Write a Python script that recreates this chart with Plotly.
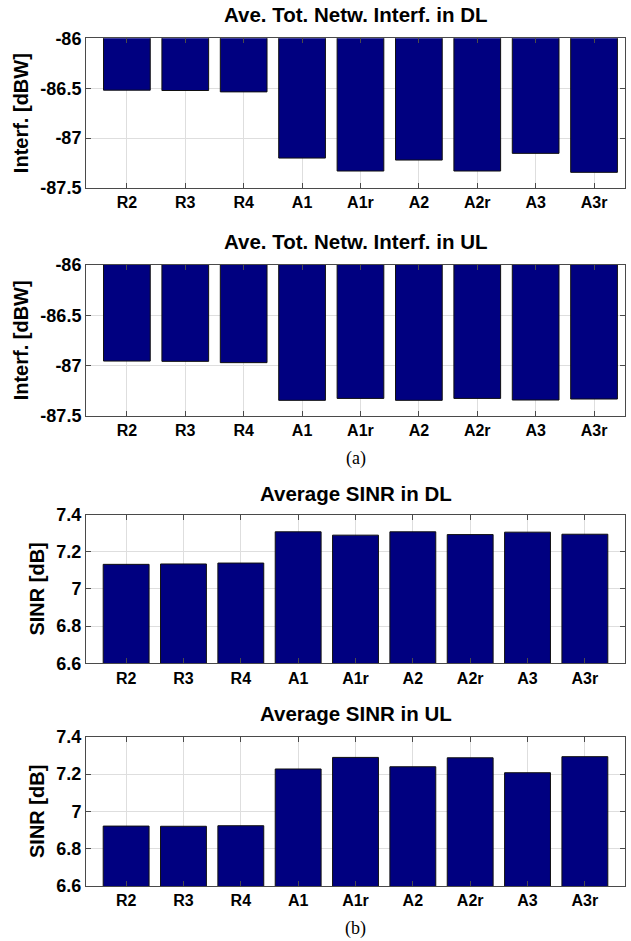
import plotly.graph_objects as go

categories = ["R2", "R3", "R4", "A1", "A1r", "A2", "A2r", "A3", "A3r"]
interf_dl = [-86.520, -86.523, -86.537, -87.200, -87.330, -87.220, -87.330, -87.153, -87.343]
interf_ul = [-86.956, -86.959, -86.972, -87.347, -87.328, -87.347, -87.328, -87.344, -87.334]
sinr_dl = [7.132, 7.134, 7.139, 7.307, 7.289, 7.307, 7.292, 7.305, 7.294]
sinr_ul = [6.921, 6.920, 6.923, 7.227, 7.289, 7.239, 7.287, 7.207, 7.293]

interf_ticks = [-86, -86.5, -87, -87.5]
interf_ticktext = ["-86", "-86.5", "-87", "-87.5"]
sinr_ticks = [6.6, 6.8, 7.0, 7.2, 7.4]
sinr_ticktext = ["6.6", "6.8", "7", "7.2", "7.4"]

titles = ["Ave. Tot. Netw. Interf. in DL", "Ave. Tot. Netw. Interf. in UL",
          "Average SINR in DL", "Average SINR in UL"]
ytitles = ["Interf. [dBW]", "Interf. [dBW]", "SINR [dB]", "SINR [dB]"]
captions = ["(a)", "(b)"]

W, H = 631, 941
FONT = "Liberation Sans, Arial, sans-serif"
BAR = "#000080"
FRAME = "#4a4a4a"
GRID = "#dedede"

series = [interf_dl, interf_ul, sinr_dl, sinr_ul]
# panel frames in pixels (top, bottom)
frames = [(38.3, 188.0), (265.0, 415.7), (514.5, 663.3), (736.7, 886.0)]
xranges = [[-0.7, 8.53], [-0.7, 8.53], [-0.7, 8.7], [-0.7, 8.7]]
yranges = [[-87.5, -86], [-87.5, -86], [6.6, 7.4], [6.6, 7.4]]
yticks = [(interf_ticks, interf_ticktext)] * 2 + [(sinr_ticks, sinr_ticktext)] * 2
title_y = [15, 242, 494, 713]
caption_y = [459, 928]

xd = [86 / W, 625 / W]

fig = go.Figure()
layout = dict(width=W, height=H, margin=dict(l=0, r=0, t=0, b=0),
              paper_bgcolor="white", plot_bgcolor="white", showlegend=False,
              bargap=0.2, annotations=[])

for i in range(4):
    n = "" if i == 0 else str(i + 1)
    fig.add_trace(go.Bar(x=categories, y=series[i], marker=dict(color=BAR, line=dict(color="#101010", width=1)),
                         width=0.8, xaxis="x" + n, yaxis="y" + n))
    top, bot = frames[i]
    layout["xaxis" + n] = dict(
        domain=xd, anchor="y" + n, range=xranges[i], type="category",
        categoryorder="array", categoryarray=categories,
        showline=True, linecolor=FRAME, linewidth=1, mirror="allticks",
        ticks="inside", ticklen=5, tickcolor=FRAME,
        showgrid=True, gridcolor=GRID, gridwidth=1, zeroline=False,
        tickfont=dict(family=FONT, size=16, color="black", weight="bold"),
        fixedrange=True)
    tv, tt = yticks[i]
    layout["yaxis" + n] = dict(
        domain=[1 - bot / H, 1 - top / H], anchor="x" + n, range=yranges[i],
        tickvals=tv, ticktext=tt,
        showline=True, linecolor=FRAME, linewidth=1, mirror="allticks",
        ticks="inside", ticklen=5, tickcolor=FRAME,
        showgrid=True, gridcolor=GRID, gridwidth=1, zeroline=False,
        tickfont=dict(family=FONT, size=18, color="black", weight="bold"),
        title=dict(text=ytitles[i], standoff=6,
                   font=dict(family=FONT, size=20, color="black", weight="bold")),
        automargin=False, fixedrange=True)
    layout["annotations"].append(dict(
        text=titles[i], xref="paper", yref="paper", x=(xd[0] + xd[1]) / 2, y=1 - title_y[i] / H,
        xanchor="center", yanchor="middle", showarrow=False,
        font=dict(family=FONT, size=20.5, color="black", weight="bold")))

for j, cap in enumerate(captions):
    layout["annotations"].append(dict(
        text=cap, xref="paper", yref="paper", x=(xd[0] + xd[1]) / 2, y=1 - caption_y[j] / H,
        xanchor="center", yanchor="middle", showarrow=False,
        font=dict(family="Liberation Serif, Times New Roman, serif", size=18, color="black")))

fig.update_layout(**layout)
fig.write_html("out.html", config={"displayModeBar": False, "staticPlot": True},
               post_script="document.body.style.margin='0';document.body.style.overflow='hidden';")
